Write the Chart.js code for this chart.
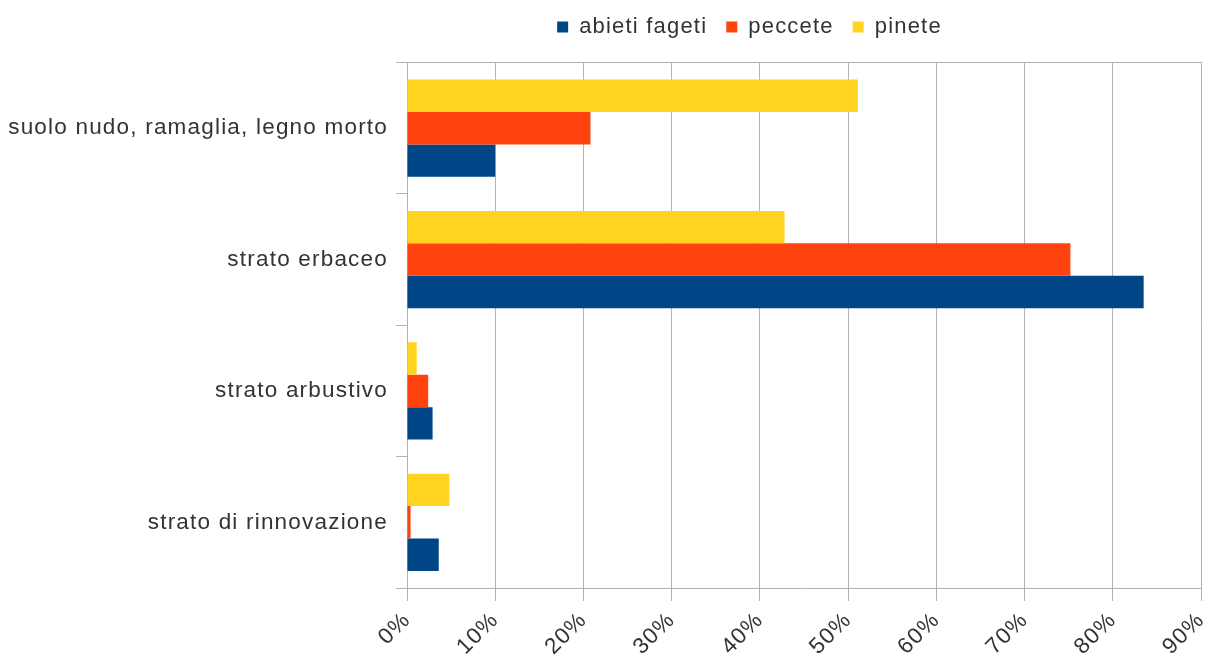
<!DOCTYPE html>
<html>
<head>
<meta charset="utf-8">
<script src="https://cdn.jsdelivr.net/npm/chart.js@4"></script>
<style>
  html, body { margin: 0; padding: 0; background: #ffffff; }
  #wrap { width: 1211px; height: 659px; position: relative; }
</style>
</head>
<body>
<div id="wrap"><canvas id="chart"></canvas></div>
<script>
// Ground cover by layer, share of surveyed area (%)
const categories = [
  'suolo nudo, ramaglia, legno morto',
  'strato erbaceo',
  'strato arbustivo',
  'strato di rinnovazione'
];
const abietiFageti = [10.0, 83.5, 2.9, 3.6];
const peccete      = [20.8, 75.2, 2.4, 0.4];
const pinete       = [51.1, 42.8, 1.1, 4.8];
const xTickValues  = [0, 10, 20, 30, 40, 50, 60, 70, 80, 90];

const BLUE = '#004586';
const ORANGE = '#ff420e';
const YELLOW = '#ffd320';
const GRID = '#b3b3b3';
const TEXT = '#333333';
const FONT = 'Liberation Sans';

// slightly wider text spacing for all labels
const textSpacing = {
  id: 'textSpacing',
  beforeUpdate(chart) { chart.ctx.letterSpacing = '1.2px'; },
  beforeDraw(chart) { chart.ctx.letterSpacing = '1.2px'; }
};

// legend sits centred over the plot rather than the whole canvas
const legendShift = {
  id: 'legendShift',
  afterLayout(chart) {
    const l = chart.legend;
    l.left += 149; l.right += 149;
    l.top -= 3; l.bottom -= 3;
  }
};

new Chart(document.getElementById('chart'), {
  type: 'bar',
  data: {
    labels: categories,
    datasets: [
      { label: 'pinete', data: pinete, backgroundColor: YELLOW },
      { label: 'peccete', data: peccete, backgroundColor: ORANGE },
      { label: 'abieti fageti', data: abietiFageti, backgroundColor: BLUE }
    ]
  },
  options: {
    indexAxis: 'y',
    responsive: true,
    maintainAspectRatio: false,
    animation: false,
    layout: { padding: { top: 0, right: 10, bottom: 0, left: 0 } },
    datasets: { bar: { categoryPercentage: 0.74, barPercentage: 1.0, borderWidth: 0 } },
    plugins: {
      tooltip: { enabled: false },
      legend: {
        position: 'top',
        reverse: true,
        labels: {
          boxWidth: 11,
          boxHeight: 11,
          padding: 19,
          color: TEXT,
          font: { family: FONT, size: 22 }
        }
      }
    },
    scales: {
      x: {
        type: 'linear',
        position: 'bottom',
        min: 0,
        max: 90,
        afterBuildTicks(scale) { scale.ticks = xTickValues.map(v => ({ value: v })); },
        ticks: {
          autoSkip: false,
          minRotation: 45,
          maxRotation: 45,
          padding: 6,
          color: TEXT,
          font: { family: FONT, size: 22.5 },
          callback: v => v + '%'
        },
        grid: { color: GRID, lineWidth: 1, tickLength: 13, tickColor: GRID },
        border: { display: true, color: GRID, width: 1 },
        afterFit(scale) {
          scale.height = 71;
          scale.paddingLeft = 0;
          scale.paddingRight = 0;
        }
      },
      xTop: {
        type: 'linear',
        position: 'top',
        min: 0,
        max: 90,
        ticks: { display: false },
        grid: { display: false },
        border: { display: true, color: GRID, width: 1 },
        afterFit(scale) {
          const lh = scale.chart.legend ? scale.chart.legend.height : 0;
          scale.height = Math.max(0, 62.5 - lh);
          scale.paddingLeft = 0;
          scale.paddingRight = 0;
        }
      },
      y: {
        type: 'category',
        position: 'left',
        offset: true,
        ticks: {
          padding: 8,
          color: TEXT,
          font: { family: FONT, size: 22.5 }
        },
        grid: {
          offset: true,
          drawOnChartArea: false,
          tickLength: 11,
          color: GRID,
          tickColor: GRID
        },
        border: { display: true, color: GRID, width: 1 },
        afterFit(scale) {
          scale.width = 407;
          scale.paddingTop = 0;
          scale.paddingBottom = 0;
        }
      }
    }
  },
  plugins: [textSpacing, legendShift]
});
</script>
</body>
</html>
